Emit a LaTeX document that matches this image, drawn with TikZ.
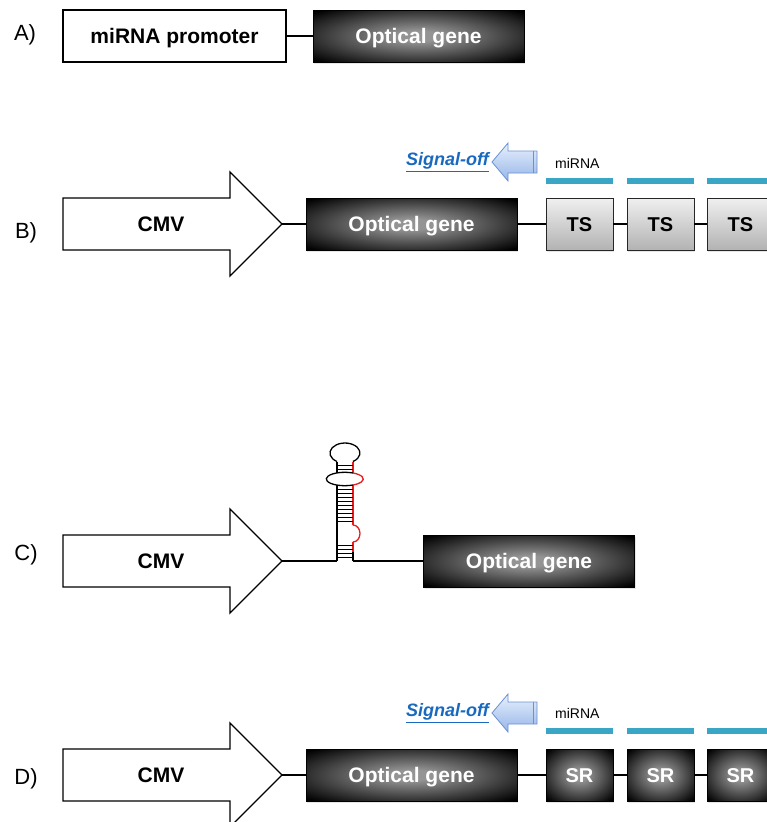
\documentclass[tikz,border=0pt]{standalone}
\usepackage{fontspec}
\setmainfont{Liberation Sans}
\usetikzlibrary{shadows}
\definecolor{optmid}{gray}{0.58}
\definecolor{barblue}{RGB}{58,166,198}
\definecolor{sigblue}{RGB}{25,105,190}
\definecolor{arrtop}{RGB}{232,240,253}
\definecolor{arrbot}{RGB}{150,182,232}
\definecolor{arredge}{RGB}{105,145,212}
\definecolor{hpred}{RGB}{230,30,30}
\pgfdeclareradialshading{optgene}{\pgfpoint{0bp}{0bp}}{color(0bp)=(optmid); color(5bp)=(optmid); color(34bp)=(black); color(50bp)=(black)}
\begin{document}
\begin{tikzpicture}[x=1pt,y=-1pt,
  lab/.style={font=\fontsize{22}{26}\selectfont, text height=15.8pt, text depth=0pt, inner sep=0pt},
  big/.style={font=\fontsize{21}{25}\selectfont\bfseries, text height=15pt, text depth=0pt},
  gene/.style={big, draw=black, line width=1pt, shading=optgene, text=white,
    minimum width=211pt, minimum height=52pt, inner sep=0pt, outer sep=0pt,
    drop shadow={opacity=0.2, shadow xshift=1pt, shadow yshift=-2pt}},
  promo/.style={big, draw=black, line width=1.2pt, fill=white,
    minimum width=223pt, minimum height=52pt, inner sep=0pt, outer sep=0pt},
  tsbox/.style={font=\fontsize{20}{24}\selectfont\bfseries, text height=14.3pt, text depth=0pt,
    draw=black!85, line width=1pt,
    top color=black!6, bottom color=black!30, minimum width=67pt, minimum height=52pt,
    inner sep=0pt, outer sep=0pt, drop shadow={opacity=0.2, shadow xshift=1pt, shadow yshift=-2pt}},
  srbox/.style={font=\fontsize{20}{24}\selectfont\bfseries, text height=14.3pt, text depth=0pt,
    draw=black, line width=1pt,
    shading=optgene, text=white, minimum width=67pt, minimum height=52pt,
    inner sep=0pt, outer sep=0pt, drop shadow={opacity=0.2, shadow xshift=1pt, shadow yshift=-2pt}},
  wire/.style={line width=1.3pt, draw=black},
  cmv/.style={draw=black, line width=1.3pt, fill=white, line join=miter},
  bar/.style={line width=6pt, draw=barblue},
  sigtxt/.style={font=\fontsize{18}{22}\selectfont\bfseries\itshape, text=sigblue, inner sep=0pt},
  sigarr/.style={draw=arredge, line width=0.8pt, top color=arrtop, bottom color=arrbot},
  small/.style={font=\fontsize{14}{17}\selectfont, inner sep=0pt},
  hpb/.style={line width=1.3pt, draw=black},
  hpr/.style={line width=1.3pt, draw=hpred},
  rung/.style={line width=0.8pt, draw=black}]
\useasboundingbox (0,0) rectangle (767,822);
\clip (0,0) rectangle (767,822);

% ---------------- A ----------------
\node[lab] (labA) at (25,33) {A)};
\node[promo] (promA) at (174.5,36) {miRNA promoter};
\node[gene] (geneA) at (418.5,36) {Optical gene};
\draw[wire] (promA.east) -- (geneA.west);

% ---------------- B ----------------
\node[lab] (labB) at (26,231) {B)};
\draw[cmv] (63,198) -- (230,198) -- (230,172) -- (282,224) -- (230,276) -- (230,250) -- (63,250) -- cycle;
\node[big] (cmvB) at (161,224) {CMV};
\coordinate (tipB) at (282,224);
\node[gene] (geneB) at (411.5,224) {Optical gene};
\node[tsbox] (ts1) at (579.5,224) {TS};
\node[tsbox] (ts2) at (660.5,224) {TS};
\node[tsbox] (ts3) at (740.5,224) {TS};
\draw[wire] (tipB) -- (geneB.west);
\draw[wire] (geneB.east) -- (ts1.west);
\draw[wire] (ts1.east) -- (ts2.west);
\draw[wire] (ts2.east) -- (ts3.west);
\draw[bar] (546,181) -- (613,181);
\draw[bar] (627,181) -- (694,181);
\draw[bar] (707,181) -- (774,181);
\node[small, anchor=west] (mirB) at (555,163) {miRNA};
\draw[sigarr] (492,162) -- (508,143) -- (508,151) -- (537,151) -- (537,173) -- (508,173) -- (508,181) -- cycle;
\draw[arredge, line width=0.8pt] (533,151) -- (533,173);
\node[sigtxt, anchor=east] (sigB) at (489,162) {\underline{Signal-off}};

% ---------------- C ----------------
\node[lab] (labC) at (26,553) {C)};
\draw[cmv] (63,535) -- (230,535) -- (230,509) -- (282,561) -- (230,613) -- (230,587) -- (63,587) -- cycle;
\node[big] (cmvC) at (161,561) {CMV};
\coordinate (tipC) at (282,561);
\coordinate (hpL) at (337,561);
\coordinate (hpR) at (353,561);
\node[gene] (geneC) at (529,561) {Optical gene};
\draw[wire] (tipC) -- (hpL);
\draw[wire] (hpR) -- (geneC.west);
% hairpin strands
\draw[hpb] (337,561) -- (337,485);
\draw[hpb] (337,473) -- (337,461.5);
\draw[hpb] (353,561) -- (353,552);
\draw[hpr] (353,552) -- (353,542);
\draw[hpr] (353,525) -- (353,485);
\draw[hpr] (353,473) -- (353,461.5);
% terminal loop
\draw[hpb] (337,461.5) arc[start angle=122, end angle=418, x radius=15, y radius=10];
% internal loop
\draw[hpb] (353,473) arc[start angle=296.4, end angle=63.6, x radius=18.5, y radius=6.7];
\draw[hpr] (353,473) arc[start angle=-63.6, end angle=63.6, x radius=18.5, y radius=6.7];
% bulge
\draw[hpr] (353,525) arc[start angle=270, end angle=450, x radius=7, y radius=8.5];
% rungs
\foreach \yy in {465.5,469.5,489,493,497,501,505,509,513,517,521,545,549,553,557}
  \draw[rung] (337,\yy) -- (353,\yy);

% ---------------- D ----------------
\node[lab] (labD) at (26,777) {D)};
\draw[cmv] (63,749) -- (230,749) -- (230,723) -- (282,775) -- (230,827) -- (230,801) -- (63,801) -- cycle;
\node[big] (cmvD) at (161,775) {CMV};
\coordinate (tipD) at (282,775);
\node[gene] (geneD) at (411.5,775) {Optical gene};
\node[srbox] (sr1) at (579.5,775) {SR};
\node[srbox] (sr2) at (660.5,775) {SR};
\node[srbox] (sr3) at (740.5,775) {SR};
\draw[wire] (tipD) -- (geneD.west);
\draw[wire] (geneD.east) -- (sr1.west);
\draw[wire] (sr1.east) -- (sr2.west);
\draw[wire] (sr2.east) -- (sr3.west);
\draw[bar] (546,731) -- (613,731);
\draw[bar] (627,731) -- (694,731);
\draw[bar] (707,731) -- (774,731);
\node[small, anchor=west] (mirD) at (555,713) {miRNA};
\draw[sigarr] (492,713) -- (508,694) -- (508,702) -- (537,702) -- (537,724) -- (508,724) -- (508,732) -- cycle;
\draw[arredge, line width=0.8pt] (533,702) -- (533,724);
\node[sigtxt, anchor=east] (sigD) at (489,713) {\underline{Signal-off}};
\end{tikzpicture}
\end{document}
